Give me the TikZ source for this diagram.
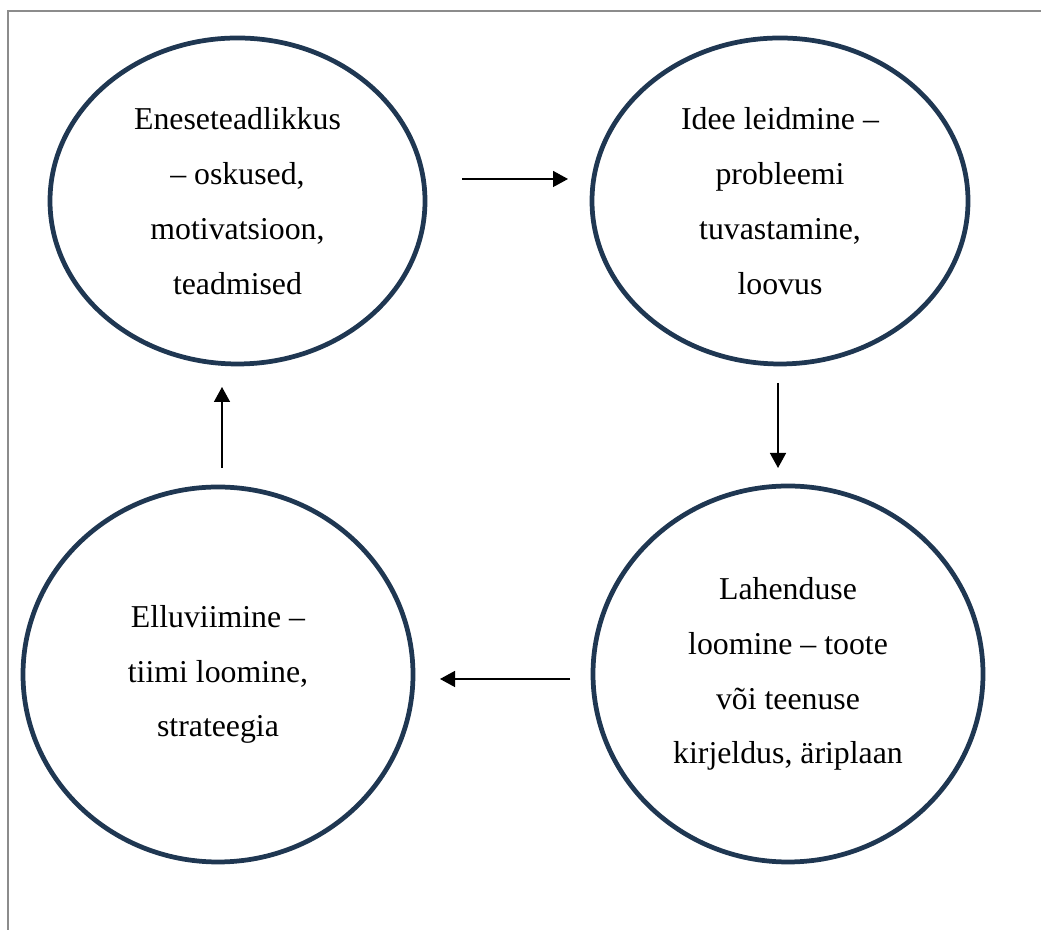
\documentclass[tikz,border=0pt]{standalone}
\usepackage{fontspec}
\setmainfont{Liberation Serif}
\usetikzlibrary{shapes.geometric,arrows.meta}
\definecolor{ringblue}{RGB}{31,55,82}

\begin{document}
\begin{tikzpicture}[ring/.style={ellipse,draw=ringblue,line width=0.095cm,inner sep=0pt,align=center,font=\fontsize{18.1}{31.2}\selectfont},flow/.style={line width=0.03cm,-{Triangle[length=0.3cm,width=0.32cm]}}]
\useasboundingbox (0,0) rectangle (20.82,18.6);
\draw[gray!90,line width=0.026cm](0.16,0)--(0.16,18.38)--(20.82,18.38);
\node[ring,minimum width=7.5cm,minimum height=6.52cm] (self) at (4.75,14.58){Eneseteadlikkus\\ -- oskused,\\ motivatsioon,\\ teadmised};
\node[ring,minimum width=7.52cm,minimum height=6.52cm] (idea) at (15.6,14.58){Idee leidmine --\\ probleemi\\ tuvastamine,\\ loovus};
\node[ring,minimum width=7.8cm,minimum height=7.52cm] (solve) at (15.76,5.12){Lahenduse\\ loomine -- toote\\ või teenuse\\ kirjeldus, äriplaan};
\node[ring,minimum width=7.8cm,minimum height=7.5cm] (act) at (4.36,5.11){Elluviimine --\\ tiimi loomine,\\ strateegia};
\coordinate (a1) at (9.24,15.02);
\coordinate (b1) at (11.36,15.02);
\coordinate (a2) at (15.56,10.94);
\coordinate (b2) at (15.56,9.24);
\coordinate (a3) at (11.4,5.02);
\coordinate (b3) at (8.8,5.02);
\coordinate (a4) at (4.44,9.24);
\coordinate (b4) at (4.44,10.86);
\draw[flow](a1)--(b1);
\draw[flow](a2)--(b2);
\draw[flow](a3)--(b3);
\draw[flow](a4)--(b4);
\end{tikzpicture}
\end{document}
